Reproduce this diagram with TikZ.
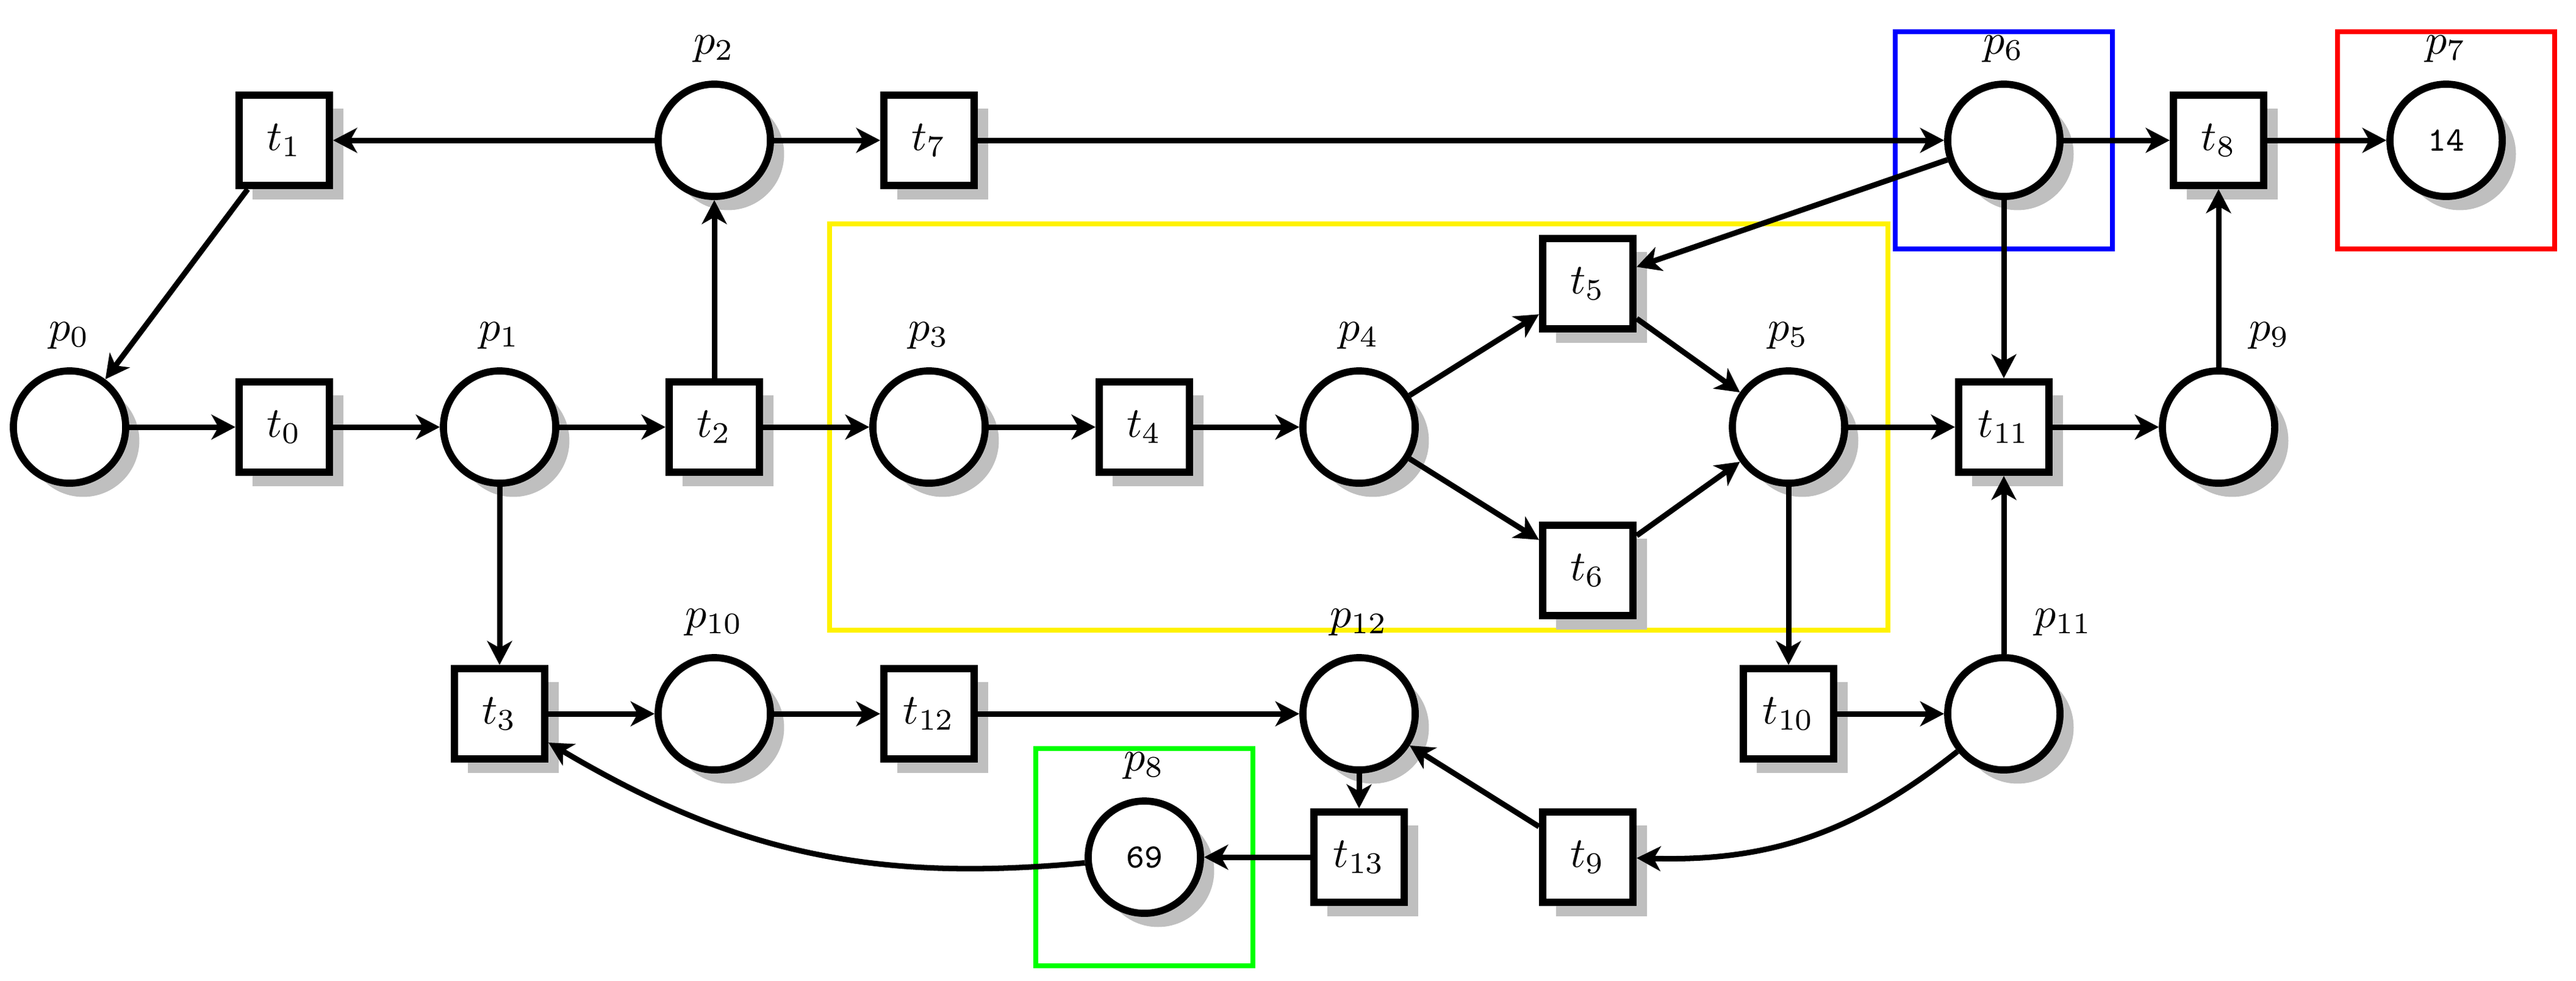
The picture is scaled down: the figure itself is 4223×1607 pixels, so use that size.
\documentclass[tikz,border=0pt]{standalone}
\usetikzlibrary{arrows.meta,shadows,calc,backgrounds}
\definecolor{boxyellow}{RGB}{255,242,0}
\begin{document}
\begin{tikzpicture}[x=0.142857pt,y=-0.142857pt,
  shad/.style={drop shadow={shadow xshift=3.2pt,shadow yshift=-3.2pt,fill=black!25,opacity=1}},
  place/.style={circle,draw,line width=1.67pt,minimum size=26.3pt,inner sep=0pt,fill=white,shad,font=\footnotesize\ttfamily},
  transition/.style={rectangle,draw,line width=1.67pt,minimum size=21.2pt,inner sep=0pt,fill=white,shad},
  plab/.style={label distance=0.8pt},
  rlab/.style={label distance=0.8pt,anchor=south west,xshift=3.7pt},
  arc/.style={-{Stealth[length=5.6pt,width=5.8pt,inset=1.6pt]},line width=1.29pt},
  boxline/.style={line width=1.2pt}]
\useasboundingbox (0,0) rectangle (4223,1607);

% places
\node[place,label={[plab]above:$p_{0}$}] (p0) at (114,700) {};
\node[place,label={[plab]above:$p_{1}$}] (p1) at (819,700) {};
\node[place,label={[plab]above:$p_{2}$}] (p2) at (1171,230) {};
\node[place,label={[plab]above:$p_{3}$}] (p3) at (1523,700) {};
\node[place,label={[plab]above:$p_{4}$}] (p4) at (2228,700) {};
\node[place,label={[plab]above:$p_{5}$}] (p5) at (2932,700) {};
\node[place,label={[plab]above:$p_{6}$}] (p6) at (3285,230) {};
\node[place,label={[plab]above:$p_{7}$}] (p7) at (4010,230) {14};
\node[place,label={[plab]above:$p_{8}$}] (p8) at (1876,1405) {69};
\node[place,label={[rlab]north:$p_{9}$}] (p9) at (3637,700) {};
\node[place,label={[plab]above:$p_{10}$}] (p10) at (1171,1170) {};
\node[place,label={[rlab]north:$p_{11}$}] (p11) at (3285,1170) {};
\node[place,label={[plab]above:$p_{12}$}] (p12) at (2228,1170) {};

% transitions
\node[transition] (t0) at (466,700) {$t_{0}$};
\node[transition] (t1) at (466,230) {$t_{1}$};
\node[transition] (t2) at (1171,700) {$t_{2}$};
\node[transition] (t3) at (819,1170) {$t_{3}$};
\node[transition] (t4) at (1876,700) {$t_{4}$};
\node[transition] (t5) at (2603,465) {$t_{5}$};
\node[transition] (t6) at (2603,935) {$t_{6}$};
\node[transition] (t7) at (1523,230) {$t_{7}$};
\node[transition] (t8) at (3637,230) {$t_{8}$};
\node[transition] (t9) at (2603,1405) {$t_{9}$};
\node[transition] (t10) at (2932,1170) {$t_{10}$};
\node[transition] (t11) at (3285,700) {$t_{11}$};
\node[transition] (t12) at (1523,1170) {$t_{12}$};
\node[transition] (t13) at (2228,1405) {$t_{13}$};

% coloured frames, behind everything
\begin{scope}[on background layer]
\draw[boxyellow,boxline] (1360,367) rectangle (3095,1033);
\draw[blue,boxline] ($(p6)+(-178,-178)$) rectangle ($(p6)+(178,178)$);
\draw[red,boxline] ($(p7)+(-178,-178)$) rectangle ($(p7)+(178,178)$);
\draw[green,boxline] ($(p8)+(-178,-178)$) rectangle ($(p8)+(178,178)$);
\end{scope}

% arcs
\draw[arc] (p0) -- (t0);
\draw[arc] (t0) -- (p1);
\draw[arc] (p1) -- (t2);
\draw[arc] (t2) -- (p3);
\draw[arc] (t2) -- (p2);
\draw[arc] (p2) -- (t1);
\draw[arc] (t1) -- (p0);
\draw[arc] (p2) -- (t7);
\draw[arc] (t7) -- (p6);
\draw[arc] (p6) -- (t8);
\draw[arc] (t8) -- (p7);
\draw[arc] (p6) -- (t5);
\draw[arc] (p6) -- (t11);
\draw[arc] (p3) -- (t4);
\draw[arc] (t4) -- (p4);
\draw[arc] (p4) -- (t5);
\draw[arc] (p4) -- (t6);
\draw[arc] (t5) -- (p5);
\draw[arc] (t6) -- (p5);
\draw[arc] (p5) -- (t11);
\draw[arc] (t11) -- (p9);
\draw[arc] (p9) -- (t8);
\draw[arc] (p5) -- (t10);
\draw[arc] (t10) -- (p11);
\draw[arc] (p11) -- (t11);
\draw[arc] (p11) to[bend left=20] (t9);
\draw[arc] (t9) -- (p12);
\draw[arc] (p1) -- (t3);
\draw[arc] (t3) -- (p10);
\draw[arc] (p10) -- (t12);
\draw[arc] (t12) -- (p12);
\draw[arc] (p12) -- (t13);
\draw[arc] (t13) -- (p8);
\draw[arc] (p8) to[bend left=18] (t3);
\end{tikzpicture}
\end{document}
